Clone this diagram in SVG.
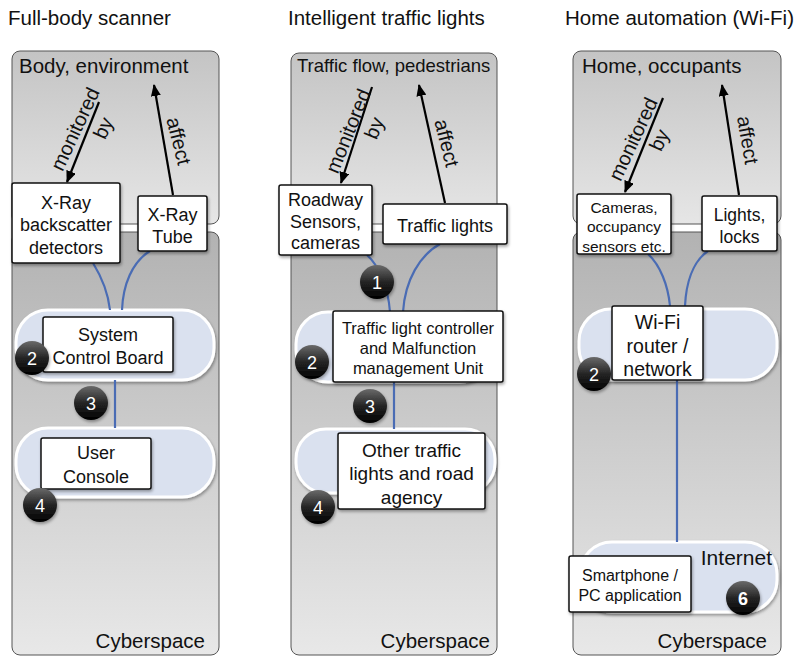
<svg xmlns="http://www.w3.org/2000/svg" width="798" height="657" viewBox="0 0 798 657">
  <defs>
    <linearGradient id="gradPhys" x1="0" y1="0" x2="0" y2="1">
      <stop offset="0" stop-color="#c4c4c4"/>
      <stop offset="1" stop-color="#e6e6e6"/>
    </linearGradient>
    <linearGradient id="gradCyber" x1="0" y1="0" x2="0" y2="1">
      <stop offset="0" stop-color="#b2b2b2"/>
      <stop offset="1" stop-color="#e8e8e8"/>
    </linearGradient>
    <linearGradient id="gradBall" x1="0" y1="0" x2="0" y2="1">
      <stop offset="0" stop-color="#6a6a6a"/>
      <stop offset="0.5" stop-color="#252525"/>
      <stop offset="1" stop-color="#000"/>
    </linearGradient>
    <filter id="shadow" x="-20%" y="-20%" width="140%" height="150%">
      <feDropShadow dx="1" dy="2" stdDeviation="1.5" flood-color="#000" flood-opacity="0.35"/>
    </filter>
    <marker id="arrow" viewBox="0 0 12 10" refX="11" refY="5" markerWidth="12" markerHeight="10" markerUnits="userSpaceOnUse" orient="auto">
      <path d="M0,0 L12,5 L0,10 Z" fill="#000"/>
    </marker>
  </defs>
  <style>
    text { font-family: "Liberation Sans", Arial, sans-serif; fill: #111; }
    .title { font-size: 20.5px; }
    .zone { font-size: 20.5px; }
    .phys { fill: url(#gradPhys); stroke: #555; stroke-width: 1; }
    .cyber { fill: url(#gradCyber); stroke: #555; stroke-width: 1; }
    .pill { fill: #dae1ef; stroke: #fff; stroke-width: 3; filter: url(#shadow); }
    .box { fill: #fff; stroke: #111; stroke-width: 1.5; filter: url(#shadow); }
    .lbl { text-anchor: middle; dominant-baseline: central; }
    .rel { font-size: 20px; text-anchor: middle; dominant-baseline: central; }
    .arr { stroke: #000; stroke-width: 2.2; fill: none; marker-end: url(#arrow); }
    .link { stroke: #4a6cb4; stroke-width: 2.2; fill: none; }
    .ball { fill: url(#gradBall); filter: url(#shadow); }
    .num { fill: #fff; font-size: 18px; text-anchor: middle; dominant-baseline: central; }
  </style>

  <rect width="798" height="657" fill="#fff"/>

  <!-- column headings -->
  <text class="title" x="8" y="25">Full-body scanner</text>
  <text class="title" x="288" y="25">Intelligent traffic lights</text>
  <text class="title" x="565" y="25">Home automation (Wi-Fi)</text>

  <!-- physical and cyber zones -->
  <g id="zones">
    <rect class="phys" x="12" y="51" width="207" height="173" rx="8"/>
    <rect class="cyber" x="12" y="232" width="207" height="423" rx="8"/>
    <rect class="phys" x="291" y="53" width="206" height="171" rx="8"/>
    <rect class="cyber" x="291" y="232" width="206" height="423" rx="8"/>
    <rect class="phys" x="573" y="51" width="208" height="173" rx="8"/>
    <rect class="cyber" x="573" y="232" width="208" height="423" rx="8"/>
    <text class="zone" x="19" y="73">Body, environment</text>
    <text class="zone" x="297" y="72" style="font-size:18.5px">Traffic flow, pedestrians</text>
    <text class="zone" x="582" y="73">Home, occupants</text>
    <text class="zone" x="205" y="648" text-anchor="end">Cyberspace</text>
    <text class="zone" x="490" y="648" text-anchor="end">Cyberspace</text>
    <text class="zone" x="767" y="648" text-anchor="end">Cyberspace</text>
  </g>

  <!-- network segments -->
  <g id="segments">
    <rect class="pill" x="16" y="310" width="198" height="70" rx="32"/>
    <rect class="pill" x="16" y="428" width="198" height="69" rx="32"/>
    <rect class="pill" x="296" y="312" width="196" height="70" rx="32"/>
    <rect class="pill" x="296" y="429" width="199" height="64" rx="30"/>
    <rect class="pill" x="579" y="309" width="198" height="71" rx="32"/>
    <rect class="pill" x="580" y="542" width="197" height="70" rx="32"/>
    <text x="772" y="565" text-anchor="end" style="font-size:21px">Internet</text>
  </g>

  <!-- connectors -->
  <g id="connectors">
    <path class="link" d="M93,263 C101,276 108,292 110,310"/>
    <path class="link" d="M150,251 C132,262 123,285 122,310"/>
    <path class="link" d="M115,380 L115,428"/>
    <path class="link" d="M367,255 C378,265 388,285 390,312"/>
    <path class="link" d="M440,244 C420,255 405,280 403,312"/>
    <path class="link" d="M394,382 L394,429"/>
    <path class="link" d="M648,254 C660,265 668,285 670,306"/>
    <path class="link" d="M708,251 C692,262 686,285 685,306"/>
    <path class="link" d="M677,380 L677,542"/>

    <path class="arr" d="M99,102 L67,182"/>
    <path class="arr" d="M173,195 L154,85"/>
    <path class="arr" d="M372,87 L341,183"/>
    <path class="arr" d="M445,203 L419,85"/>
    <path class="arr" d="M663,98 L625,192"/>
    <path class="arr" d="M739,195 L722,85"/>

    <text class="rel" transform="translate(75,129) rotate(-65)">monitored</text>
    <text class="rel" transform="translate(103,128) rotate(-65)">by</text>
    <text class="rel" transform="translate(179,141) rotate(76)">affect</text>
    <text class="rel" transform="translate(348,131) rotate(-68)">monitored</text>
    <text class="rel" transform="translate(374,128) rotate(-68)">by</text>
    <text class="rel" transform="translate(447,143) rotate(76)">affect</text>
    <text class="rel" transform="translate(633,139) rotate(-65)">monitored</text>
    <text class="rel" transform="translate(659,140) rotate(-65)">by</text>
    <text class="rel" transform="translate(748,140) rotate(80)">affect</text>
  </g>

  <!-- full-body scanner -->
  <g id="xray-detectors">
    <rect class="box" x="12" y="183" width="108" height="80" rx="2"/>
    <text class="lbl" x="66" y="203" style="font-size:18px">X-Ray</text>
    <text class="lbl" x="66" y="225" style="font-size:18px">backscatter</text>
    <text class="lbl" x="66" y="248" style="font-size:18px">detectors</text>
  </g>
  <g id="xray-tube">
    <rect class="box" x="138" y="196" width="69" height="55" rx="2"/>
    <text class="lbl" x="172.5" y="215" style="font-size:18px">X-Ray</text>
    <text class="lbl" x="172.5" y="237" style="font-size:18px">Tube</text>
  </g>
  <g id="control-board">
    <rect class="box" x="43" y="317" width="130" height="55" rx="2"/>
    <text class="lbl" x="108" y="335" style="font-size:18px">System</text>
    <text class="lbl" x="108" y="358" style="font-size:18px">Control Board</text>
  </g>
  <g id="user-console">
    <rect class="box" x="41" y="438" width="110" height="51" rx="2"/>
    <text class="lbl" x="96" y="453" style="font-size:18px">User</text>
    <text class="lbl" x="96" y="477" style="font-size:18px">Console</text>
  </g>

  <!-- intelligent traffic lights -->
  <g id="roadway-sensors">
    <rect class="box" x="279" y="185" width="93" height="70" rx="2"/>
    <text class="lbl" x="325.5" y="200" style="font-size:18px">Roadway</text>
    <text class="lbl" x="325.5" y="222" style="font-size:18px">Sensors,</text>
    <text class="lbl" x="325.5" y="243" style="font-size:18px">cameras</text>
  </g>
  <g id="traffic-lights">
    <rect class="box" x="383" y="204" width="124" height="40" rx="2"/>
    <text class="lbl" x="445" y="226" style="font-size:18px">Traffic lights</text>
  </g>
  <g id="controller">
    <rect class="box" x="333" y="311" width="170" height="71" rx="2"/>
    <text class="lbl" x="418" y="328" style="font-size:16.5px">Traffic light controller</text>
    <text class="lbl" x="418" y="348" style="font-size:16.5px">and Malfunction</text>
    <text class="lbl" x="418" y="368" style="font-size:16.5px">management Unit</text>
  </g>
  <g id="road-agency">
    <rect class="box" x="338" y="433" width="147" height="76" rx="2"/>
    <text class="lbl" x="411.5" y="450" style="font-size:19px">Other traffic</text>
    <text class="lbl" x="411.5" y="473" style="font-size:19px">lights and road</text>
    <text class="lbl" x="411.5" y="497" style="font-size:19px">agency</text>
  </g>

  <!-- home automation -->
  <g id="home-sensors">
    <rect class="box" x="577" y="194" width="94" height="60" rx="2"/>
    <text class="lbl" x="624" y="207" style="font-size:15.5px">Cameras,</text>
    <text class="lbl" x="624" y="226" style="font-size:15.5px">occupancy</text>
    <text class="lbl" x="624" y="246" style="font-size:15.5px">sensors etc.</text>
  </g>
  <g id="lights-locks">
    <rect class="box" x="702" y="196" width="75" height="55" rx="2"/>
    <text class="lbl" x="739.5" y="215" style="font-size:17.5px">Lights,</text>
    <text class="lbl" x="739.5" y="237" style="font-size:17.5px">locks</text>
  </g>
  <g id="wifi-router">
    <rect class="box" x="612" y="306" width="91" height="74" rx="2"/>
    <text class="lbl" x="657.5" y="322" style="font-size:19.5px">Wi-Fi</text>
    <text class="lbl" x="657.5" y="346" style="font-size:19.5px">router /</text>
    <text class="lbl" x="657.5" y="369" style="font-size:19.5px">network</text>
  </g>
  <g id="smartphone-app">
    <rect class="box" x="569" y="556" width="122" height="56" rx="2"/>
    <text class="lbl" x="630" y="575" style="font-size:16px">Smartphone /</text>
    <text class="lbl" x="630" y="595" style="font-size:16px">PC application</text>
  </g>

  <!-- numbered markers -->
  <g id="markers">
    <circle class="ball" cx="32" cy="358" r="17"/><text class="num" x="32" y="359">2</text>
    <circle class="ball" cx="91" cy="403" r="17"/><text class="num" x="91" y="404">3</text>
    <circle class="ball" cx="40" cy="505" r="17"/><text class="num" x="40" y="506">4</text>
    <circle class="ball" cx="377" cy="282" r="17"/><text class="num" x="377" y="283">1</text>
    <circle class="ball" cx="312" cy="362" r="17"/><text class="num" x="312" y="363">2</text>
    <circle class="ball" cx="370" cy="406" r="17"/><text class="num" x="370" y="407">3</text>
    <circle class="ball" cx="318" cy="507" r="17"/><text class="num" x="318" y="508">4</text>
    <circle class="ball" cx="594" cy="374" r="17"/><text class="num" x="594" y="375">2</text>
    <circle class="ball" cx="743" cy="598" r="17"/><text class="num" x="743" y="599" style="font-weight:bold">6</text>
  </g>
</svg>
